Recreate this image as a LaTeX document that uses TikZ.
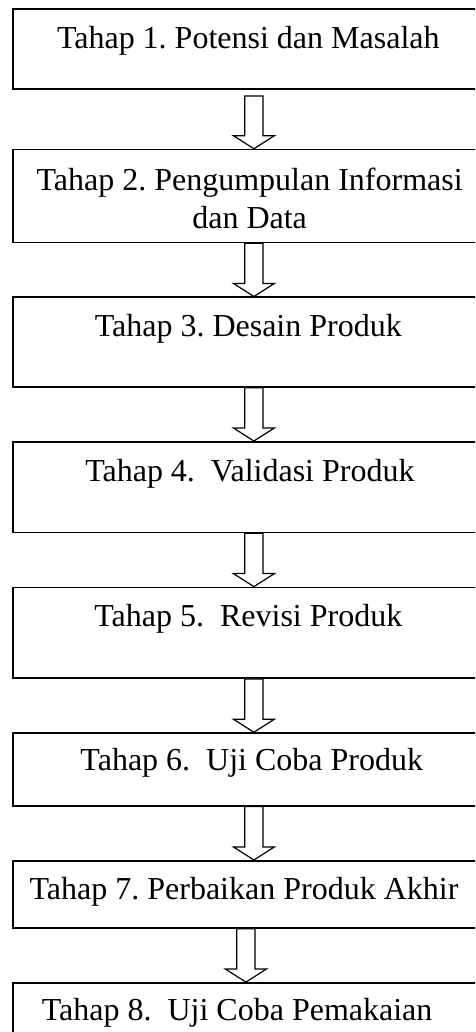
\documentclass[tikz,border=0pt]{standalone}
\usepackage{fontspec}
\setmainfont{Liberation Serif}
\usetikzlibrary{positioning,calc}

\tikzset{
    stage/.style={draw, line width=0.6pt, minimum width=176.7pt, inner sep=0pt},
    stagetext/.style={anchor=base, inner sep=0pt, align=center},
    hollow/.style={draw, line width=0.45pt, fill=white, line join=miter},
}

\begin{document}
\frenchspacing
\begin{tikzpicture}[x=0.375pt, y=-0.375pt, node distance=20pt,
    font=\fontsize{12}{14}\selectfont]
    \useasboundingbox (0,0) rectangle (475,1032);
    \clip (0,0) rectangle (475,1032);

    % the eight stages
    \node[stage, minimum height=30pt] (b1) at (248.3,49.3) {};
    \node[stage, minimum height=34.8pt, below=22pt of b1] (b2) {};
    \node[stage, minimum height=33.6pt, below=of b2] (b3) {};
    \node[stage, minimum height=34pt, below=of b3] (b4) {};
    \node[stage, minimum height=34pt, below=of b4] (b5) {};
    \node[stage, minimum height=27.3pt, below=of b5] (b6) {};
    \node[stage, minimum height=25.2pt, below=of b6] (b7) {};
    \node[stage, minimum height=33pt, below=of b7] (b8) {};

    % stage texts (base = last line)
    \node[stagetext] (t1) at ([yshift=-15pt]b1.north) {Tahap 1. Potensi dan Masalah};
    \node[stagetext] (t2) at ([xshift=0.5pt, yshift=-29.8pt]b2.north) {Tahap 2. Pengumpulan Informasi\\dan Data};
    \node[stagetext] (t3) at ([yshift=-15pt]b3.north) {Tahap 3. Desain Produk};
    \node[stagetext] (t4) at ([xshift=0.6pt, yshift=-15pt]b4.north) {Tahap 4.~ Validasi Produk};
    \node[stagetext] (t5) at ([yshift=-15pt]b5.north) {Tahap 5.~ Revisi Produk};
    \node[stagetext] (t6) at ([xshift=1.3pt, yshift=-14.3pt]b6.north) {Tahap 6.~ Uji Coba Produk};
    \node[stagetext] (t7) at ([xshift=-1.6pt, yshift=-15pt]b7.north) {Tahap 7. Perbaikan Produk Akhir};
    \node[stagetext] (t8) at ([xshift=-4.2pt, yshift=-14.3pt]b8.north) {Tahap 8.~ Uji Coba Pemakaian};

    % hollow block arrows between the stages
    \foreach \a/\b/\dx/\gap in {b1/b2/2.1/2.2, b2/b3/2.1/0, b3/b4/2.1/0, b4/b5/2.1/0,
        b5/b6/2.1/0, b6/b7/2.1/0, b7/b8/-0.9/0}{
        \coordinate (s) at ([xshift=\dx pt, yshift=-\gap pt]\a.south);
        \coordinate (e) at (s |- \b.north);
        \draw[hollow] ([xshift=-3.4pt]s) -- ([xshift=-3.4pt, yshift=4.9pt]e)
            -- ([xshift=-7.7pt, yshift=4.9pt]e) -- (e)
            -- ([xshift=7.7pt, yshift=4.9pt]e) -- ([xshift=3.4pt, yshift=4.9pt]e)
            -- ([xshift=3.4pt]s) -- cycle;
    }
\end{tikzpicture}
\end{document}
